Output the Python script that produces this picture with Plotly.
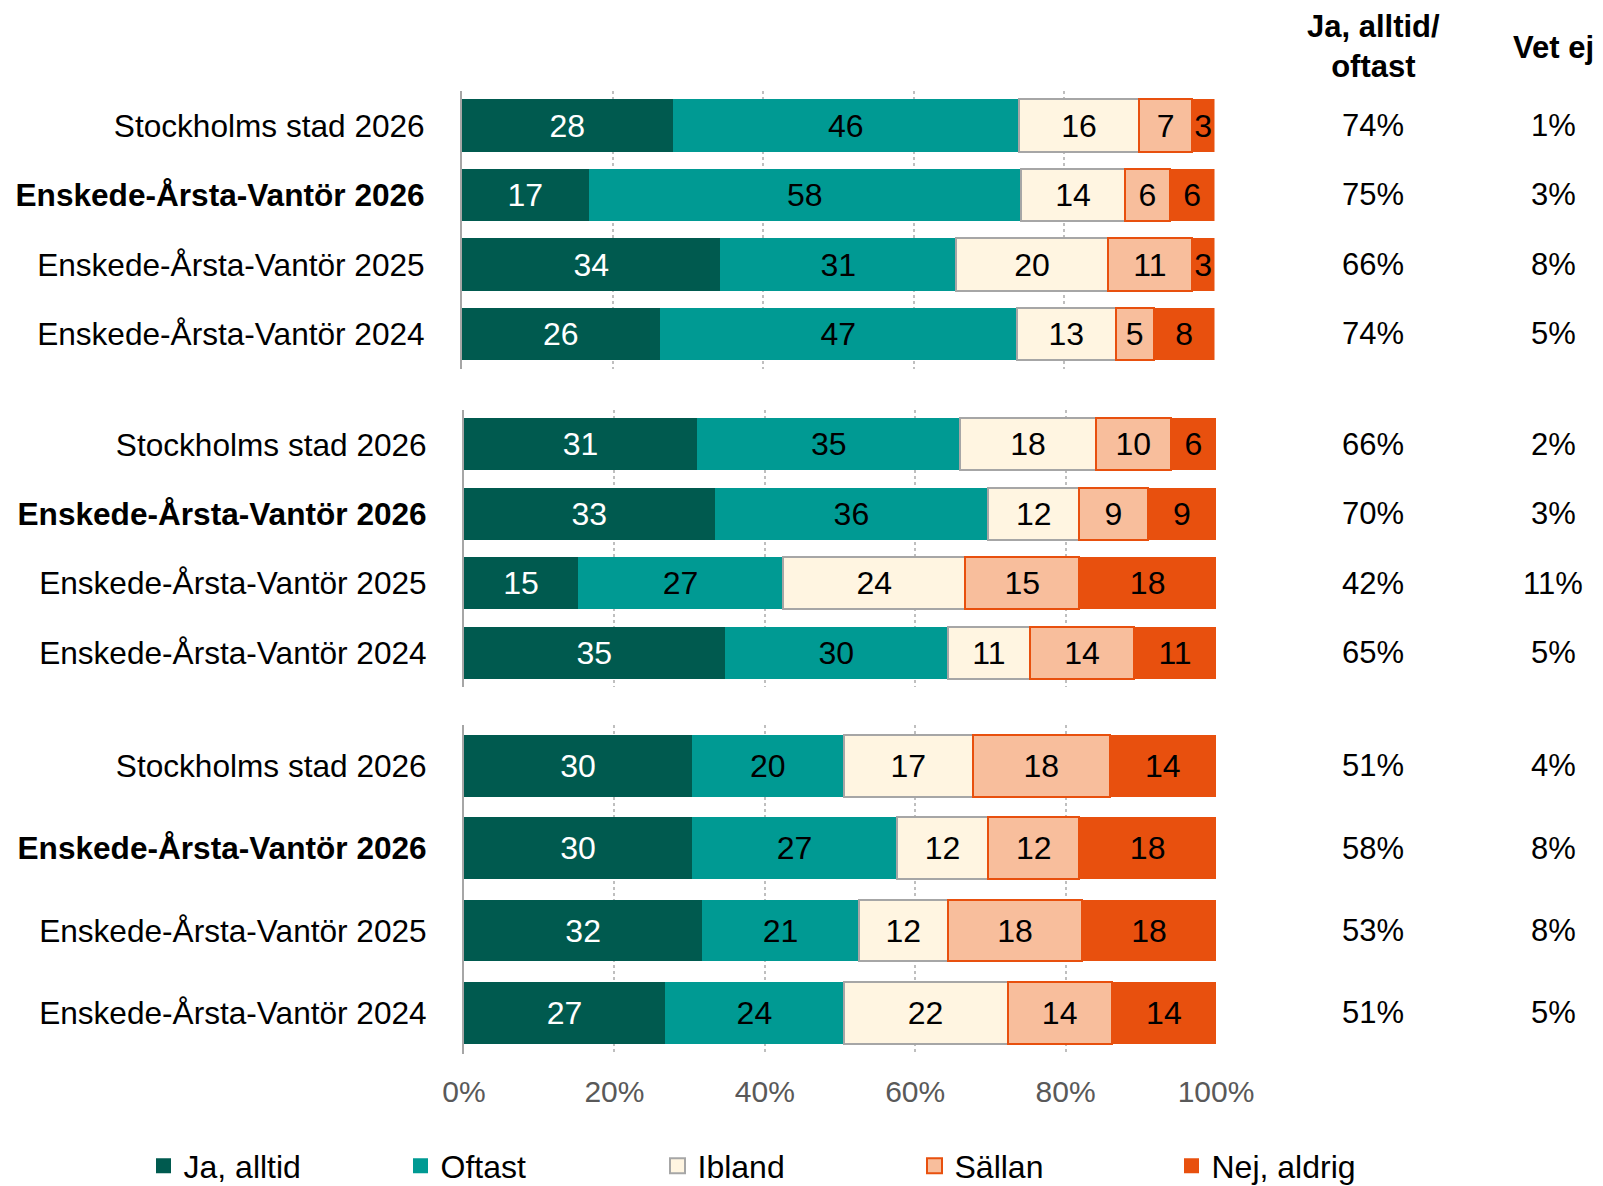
import plotly.graph_objects as go

# the page body adds an 8px margin, so the figure is drawn 8px smaller
OFF = 8
W, H = 1603 - OFF, 1186 - OFF

categories = ["Stockholms stad 2026", "<b>Enskede-Årsta-Vantör 2026</b>",
              "Enskede-Årsta-Vantör 2025", "Enskede-Årsta-Vantör 2024"]
series_names = ["Ja, alltid", "Oftast", "Ibland", "Sällan", "Nej, aldrig"]

# values per group (rows = categories), columns = series
g1_ja = [28, 17, 34, 26]
g1_oftast = [46, 58, 31, 47]
g1_ibland = [16, 14, 20, 13]
g1_sallan = [7, 6, 11, 5]
g1_nej = [3, 6, 3, 8]

g2_ja = [31, 33, 15, 35]
g2_oftast = [35, 36, 27, 30]
g2_ibland = [18, 12, 24, 11]
g2_sallan = [10, 9, 15, 14]
g2_nej = [6, 9, 18, 11]

g3_ja = [30, 30, 32, 27]
g3_oftast = [20, 27, 21, 24]
g3_ibland = [17, 12, 12, 22]
g3_sallan = [18, 12, 18, 14]
g3_nej = [14, 18, 18, 14]

g1_ja_oftast = ["74%", "75%", "66%", "74%"]
g1_vet_ej = ["1%", "3%", "8%", "5%"]
g2_ja_oftast = ["66%", "70%", "42%", "65%"]
g2_vet_ej = ["2%", "3%", "11%", "5%"]
g3_ja_oftast = ["51%", "58%", "53%", "51%"]
g3_vet_ej = ["4%", "8%", "8%", "5%"]

x_ticks = [0, 20, 40, 60, 80, 100]
x_tick_labels = ["0%", "20%", "40%", "60%", "80%", "100%"]

groups = [
    [g1_ja, g1_oftast, g1_ibland, g1_sallan, g1_nej],
    [g2_ja, g2_oftast, g2_ibland, g2_sallan, g2_nej],
    [g3_ja, g3_oftast, g3_ibland, g3_sallan, g3_nej],
]
right_cols = [(g1_ja_oftast, g1_vet_ej), (g2_ja_oftast, g2_vet_ej), (g3_ja_oftast, g3_vet_ej)]

fill_colors = ["#005A4F", "#009A93", "#FFF5E1", "#F8BE9C", "#E8500E"]
line_colors = ["#005A4F", "#009A93", "#A6A6A6", "#E8500E", "#E8500E"]
line_widths = [0, 0, 2, 2, 0]
text_colors = ["white", "black", "black", "black", "black"]

FONT = "Liberation Sans, Arial, sans-serif"

# screen-pixel geometry (top, bottom) of each panel and x extents
y_px = [(90.75, 368.75), (409.8, 687.2), (724.5, 1054.2)]
x_px = [(462, 1214.5), (464, 1216), (464, 1216)]


def px_x(v):
    return (v - OFF) / W


def px_y(v):
    return 1 - (v - OFF) / H


COL1_X = px_x(1373)
COL2_X = px_x(1553)

fig = go.Figure()

for gi, vals in enumerate(groups):
    suffix = "" if gi == 0 else str(gi + 1)
    # 100% stacked: each row normalised to its total
    totals = [sum(v[ci] for v in vals) for ci in range(len(categories))]
    for si, name in enumerate(series_names):
        share = [100.0 * vals[si][ci] / totals[ci] for ci in range(len(categories))]
        fig.add_trace(go.Bar(
            y=categories, x=share, orientation="h", name=name,
            xaxis="x" + suffix, yaxis="y" + suffix,
            marker=dict(color=fill_colors[si],
                        line=dict(color=line_colors[si], width=line_widths[si])),
            text=vals[si], textposition="inside", insidetextanchor="middle",
            textangle=0, constraintext="none",
            textfont=dict(color=text_colors[si], size=32, family=FONT),
            width=0.75, showlegend=False,
            hoverinfo="skip",
        ))
    ja_of, vet = right_cols[gi]
    for ci, cat in enumerate(categories):
        fig.add_annotation(x=COL1_X, xref="paper", y=cat, yref="y" + suffix,
                           xanchor="center", yanchor="middle",
                           text=ja_of[ci], showarrow=False,
                           font=dict(size=31, color="black", family=FONT))
        fig.add_annotation(x=COL2_X, xref="paper", y=cat, yref="y" + suffix,
                           xanchor="center", yanchor="middle",
                           text=vet[ci], showarrow=False,
                           font=dict(size=31, color="black", family=FONT))

# legend entries (square swatches)
for si, name in enumerate(series_names):
    fig.add_trace(go.Scatter(
        x=[None], y=[None], mode="markers", name=name,
        xaxis="x", yaxis="y",
        marker=dict(symbol="square", size=15, color=fill_colors[si],
                    line=dict(color=line_colors[si], width=max(line_widths[si], 0))),
        showlegend=True, hoverinfo="skip",
    ))

layout = dict(
    width=W, height=H, autosize=False,
    margin=dict(l=0, r=0, t=0, b=0, autoexpand=False),
    paper_bgcolor="white", plot_bgcolor="white",
    barmode="stack", bargap=0.25,
    font=dict(family=FONT, size=32, color="black"),
    legend=dict(orientation="h", x=135.5 / W, xanchor="left",
                y=px_y(1166), yanchor="middle",
                entrywidth=212, entrywidthmode="pixels",
                font=dict(size=32, family=FONT, color="black"),
                traceorder="normal", itemclick=False),
)

for gi in range(3):
    suffix = "" if gi == 0 else str(gi + 1)
    t, b = y_px[gi]
    l, r = x_px[gi]
    xa = dict(domain=[px_x(l), px_x(r)], range=[0, 100], anchor="y" + suffix,
              tickvals=x_ticks, ticktext=x_tick_labels,
              showgrid=True, gridcolor="#BFBFBF", griddash="dot", gridwidth=1.5,
              zeroline=False, showline=False, automargin=False,
              showticklabels=(gi == 2), ticklabelstandoff=17,
              tickfont=dict(size=30, color="#595959", family=FONT),
              fixedrange=True)
    ya = dict(domain=[px_y(b), px_y(t)], anchor="x" + suffix,
              categoryorder="array", categoryarray=categories,
              range=[3.5, -0.5], showline=True, linecolor="#A6A6A6", linewidth=2,
              showgrid=False, zeroline=False, ticks="", ticklabelstandoff=29,
              automargin=False,
              tickfont=dict(size=31.6, color="black", family=FONT),
              fixedrange=True)
    layout["xaxis" + suffix] = xa
    layout["yaxis" + suffix] = ya

fig.update_layout(**layout)

fig.add_annotation(x=COL1_X, xref="paper", y=px_y(46.5), yref="paper",
                   xanchor="center", yanchor="middle",
                   text="<b>Ja, alltid/<br>oftast</b>", showarrow=False,
                   font=dict(size=31, color="black", family=FONT))
fig.add_annotation(x=COL2_X, xref="paper", y=px_y(47), yref="paper",
                   xanchor="center", yanchor="middle",
                   text="<b>Vet ej</b>", showarrow=False,
                   font=dict(size=31, color="black", family=FONT))

fig.write_html("out.html")
